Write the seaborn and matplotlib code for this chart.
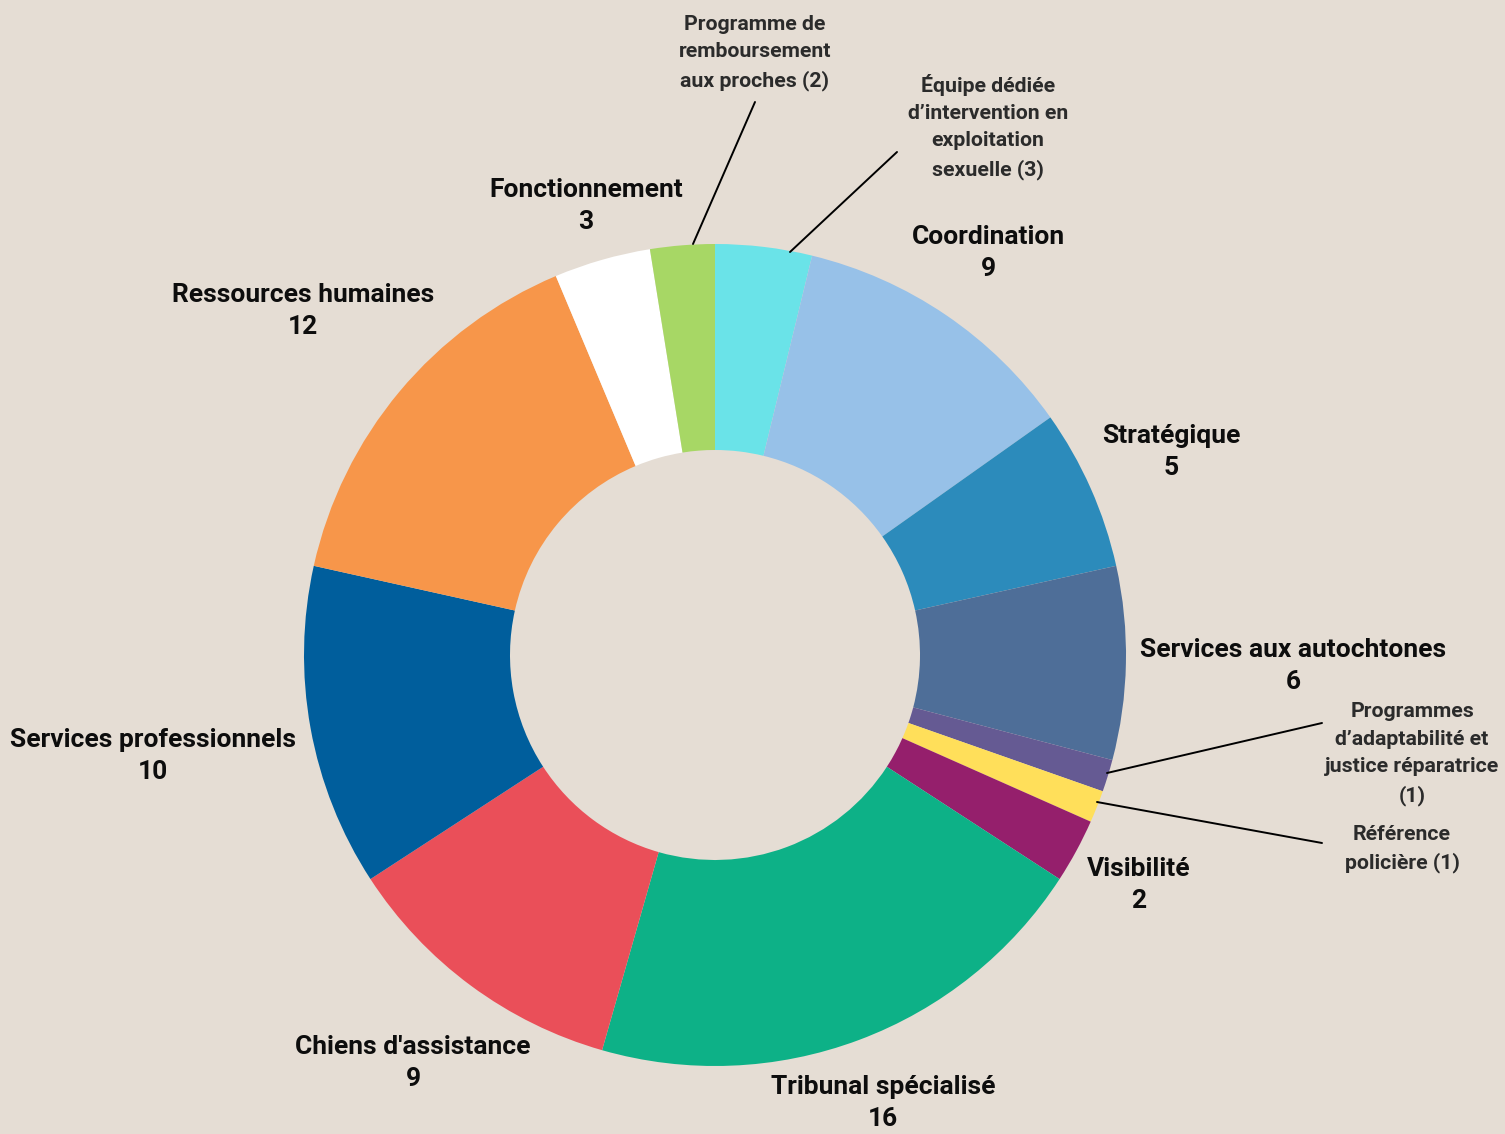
import matplotlib.pyplot as plt
import seaborn as sns

# Data (clockwise from 12 o'clock)
categories = [
    "Équipe dédiée\nd’intervention en\nexploitation\nsexuelle (3)",
    "Coordination\n9",
    "Stratégique\n5",
    "Services aux autochtones\n6",
    "Programmes\nd’adaptabilité et\njustice réparatrice\n(1)",
    "Référence\npolicière (1)",
    "Visibilité\n2",
    "Tribunal spécialisé\n16",
    "Chiens d'assistance\n9",
    "Services professionnels\n10",
    "Ressources humaines\n12",
    "Fonctionnement\n3",
    "Programme de\nremboursement\naux proches (2)",
]
values = [3, 9, 5, 6, 1, 1, 2, 16, 9, 10, 12, 3, 2]
colors = ["#6ae3e8", "#97c1e8", "#2c8bbb", "#4e6e98", "#655a93", "#ffdf5a",
          "#951f6c", "#0db187", "#ea4f59", "#005e9c", "#f7964a", "#ffffff",
          "#a7d765"]
small = [True, False, False, False, True, True, False, False, False, False,
         False, False, True]

# label layout (pixel coords, y from top), leader line starts for small ones
label_pos = [(988, 127), (988, 253), (1171, 452), (1293, 666), (1412, 754),
             (1402, 849), (1139, 885), (883, 1103), (413, 1063), (153, 756),
             (303, 311), (586, 206), (755, 53)]
leaders = {0: ((897, 152), (790, 252)), 4: ((1322, 723), (1107, 773)),
           5: ((1322, 843), (1097, 802)), 12: ((755, 102), (693, 244))}

sns.set_theme(style="white")
plt.rcParams['font.family'] = ['Roboto', 'DejaVu Sans']

W, H = 1505, 1134
bg = "#e5ddd4"
fig = plt.figure(figsize=(W / 100, H / 100), dpi=100, facecolor=bg)
ax = fig.add_axes([0, 0, 1, 1])
ax.set_facecolor(bg)

ax.pie(values, colors=colors, startangle=90, counterclock=False,
       center=(715, H - 655), radius=411,
       wedgeprops=dict(width=206, linewidth=0.5, edgecolor='none'))
ax.set_xlim(0, W)
ax.set_ylim(0, H)
ax.set_aspect('equal')
ax.axis('off')

for i, lab in enumerate(categories):
    x, y = label_pos[i]
    if small[i]:
        ax.text(x, H - y, lab, ha='center', va='center', fontsize=15.3,
                fontweight='bold', color='#2b2b2b', linespacing=1.55)
    else:
        ax.text(x, H - y, lab, ha='center', va='center', fontsize=19,
                fontweight='bold', color='#0d0d0d', linespacing=1.37)
    if i in leaders:
        (x0, y0), (x1, y1) = leaders[i]
        ax.plot([x0, x1], [H - y0, H - y1], color='black', linewidth=1.4)

fig.savefig('out.png', dpi=100, facecolor=bg)
